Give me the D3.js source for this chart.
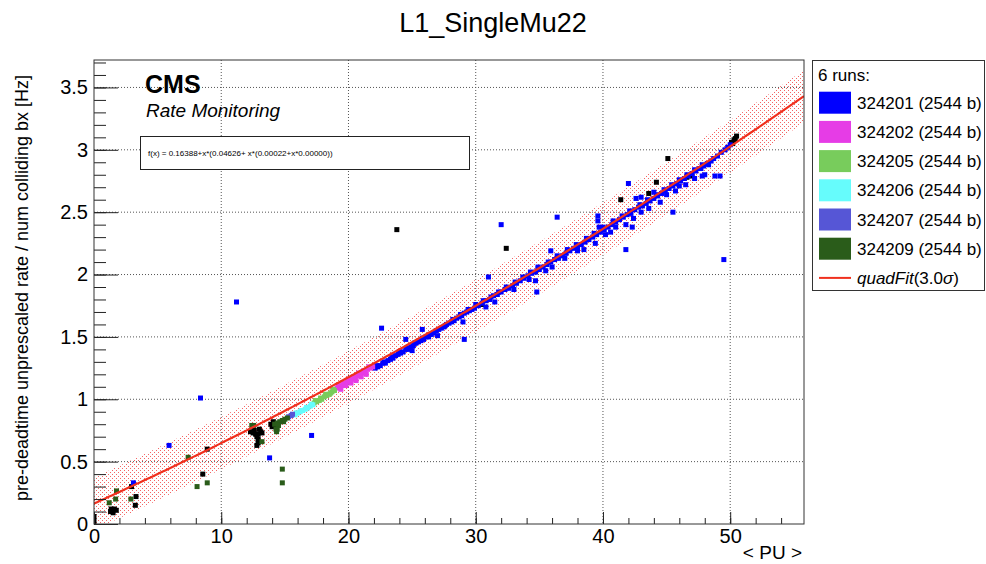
<!DOCTYPE html>
<html>
<head>
<meta charset="utf-8">
<script src="https://cdn.jsdelivr.net/npm/d3@7"></script>
<style>
body { margin: 0; background: #fff; }
text { font-family: "Liberation Sans", Arial, Helvetica, sans-serif; fill: #000; }
</style>
</head>
<body>
<div id="chart"></div>
<script>
// chart data
var runNames = ["324201", "324202", "324205", "324206", "324207", "324209"];
var runBunches = [2544, 2544, 2544, 2544, 2544, 2544];
var runColors = ["#0000ff", "#e63ce6", "#78cc5c", "#66fcfc", "#5656d6", "#2a5c1a"];

// fit: f(x) = p0 + x*(p1 + x*(p2 + x*p3)), band is +-3 sigma
var fitParams = [0.16388, 0.04626, 0.00022, 0.00000];
var fitSigma3 = 0.21;

var run324201 = [
  [22.1,1.25],[22.3,1.26],[22.5,1.27],[22.7,1.29],[22.9,1.29],[23.1,1.31],[23.3,1.32],[23.5,1.33],
  [23.7,1.35],[23.9,1.36],[24.1,1.37],[24.3,1.38],[24.5,1.40],[24.7,1.40],[24.9,1.42],[25.1,1.43],
  [25.3,1.45],[25.5,1.46],[25.7,1.47],[25.9,1.48],[26.1,1.50],[26.3,1.50],[26.5,1.52],[26.7,1.53],
  [26.9,1.55],[27.1,1.56],[27.3,1.57],[27.5,1.58],[27.7,1.60],[27.9,1.61],[28.1,1.62],[28.3,1.63],
  [28.5,1.65],[28.7,1.66],[28.9,1.67],[29.1,1.69],[29.3,1.70],[29.5,1.71],[29.7,1.72],[29.9,1.73],
  [30.2,1.75],[30.5,1.77],[30.8,1.79],[31.1,1.80],[31.4,1.83],[31.7,1.84],[32.0,1.86],[32.3,1.88],
  [32.6,1.89],[32.9,1.91],[33.2,1.93],[33.5,1.95],[33.8,1.97],[34.1,1.99],[34.4,2.01],[34.7,2.02],
  [35.0,2.04],[35.3,2.06],[35.6,2.08],[35.9,2.10],[36.2,2.12],[36.5,2.13],[36.8,2.15],[37.1,2.17],
  [37.4,2.19],[37.7,2.21],[38.0,2.22],[38.3,2.24],[38.6,2.26],[38.9,2.28],[39.2,2.30],[39.5,2.32],
  [39.8,2.34],[40.1,2.36],[40.4,2.38],[40.7,2.40],[41.0,2.42],[41.3,2.44],[41.6,2.46],[41.9,2.48],
  [42.2,2.49],[42.5,2.52],[42.8,2.54],[43.1,2.55],[43.4,2.57],[43.7,2.59],[44.0,2.61],[44.3,2.63],
  [44.6,2.65],[44.9,2.67],[45.2,2.69],[45.5,2.71],[45.8,2.73],[46.1,2.75],[46.4,2.77],[46.7,2.79],
  [47.0,2.81],[47.3,2.83],[47.6,2.85],[47.9,2.87],[48.2,2.89],[48.5,2.91],[49.6,3.00],[49.8,3.02],
  [50.0,3.04],
  [22.2,1.27],[22.8,1.30],[23.4,1.34],[24.0,1.38],[24.6,1.41],[25.2,1.45],[25.8,1.49],[26.4,1.52],
  [27.6,1.59],[28.2,1.64],[28.8,1.68],[29.4,1.72],[30.0,1.76],[30.6,1.79],[31.2,1.82],[31.8,1.86],
  [32.4,1.90],[33.1,1.94],[33.7,1.98],[34.3,2.02],[34.9,2.05],[35.7,2.10],[36.4,2.15],[37.2,2.20],
  [37.9,2.24],[38.7,2.29],[39.3,2.33],[40.0,2.38],[40.8,2.43],[41.5,2.47],[42.1,2.51],[42.9,2.56],
  [43.5,2.60],[44.2,2.64],[44.8,2.68],[45.4,2.72],[46.0,2.76],[46.6,2.80],[47.2,2.84],[47.8,2.88],
  [30.8,1.74],[33.0,1.88],[34.2,1.96],[34.9,2.06],[36.0,2.06],[37.0,2.13],[38.0,2.19],[39.6,2.43],
  [39.7,2.38],[40.2,2.32],[41.0,2.38],[42.4,2.45],[43.0,2.50],[43.6,2.53],[44.5,2.58],[45.0,2.64],
  [46.0,2.71],[46.5,2.72],[47.2,2.77],[47.8,2.79],[43.0,2.62],[44.0,2.66],[35.5,2.03],[38.5,2.20],
  [41.8,2.40],[29.0,1.62],[27.0,1.51],[25.0,1.39],[31.5,1.78],[40.6,2.34],[45.7,2.67],[39.4,2.25],
  [47.7,2.85],[48.0,2.80],[48.3,2.88],[48.7,2.93],[49.0,2.95],[49.3,2.98],
  [8.37,1.01],[5.9,0.63],[3.1,0.33],[17.1,0.71],[13.8,0.53],[11.2,1.78],[22.6,1.57],[24.5,1.48],
  [25.8,1.56],[29.1,1.48],[32.0,2.40],[36.4,2.46],[35.9,2.19],[31.0,1.98],[34.8,1.86],[34.7,1.95],
  [39.6,2.47],[42.0,2.73],[41.8,2.20],[45.5,2.50],[42.6,2.61],[42.3,2.38],[48.8,2.79],[49.2,2.79],
  [49.5,2.12]
];
var run324202 = [
  [19.1,1.09],[19.3,1.10],[19.5,1.11],[19.7,1.12],[19.9,1.14],[20.1,1.15],[20.3,1.16],[20.5,1.17],
  [20.7,1.19],[20.9,1.20],[21.1,1.21],[21.3,1.22],[21.5,1.24],[21.7,1.25],[21.9,1.26],
  [19.2,1.11],[19.6,1.13],[20.0,1.16],[20.4,1.18],[20.8,1.21],[21.2,1.23],[21.6,1.26],
  [19.4,1.08],[19.8,1.11],[20.2,1.13],[20.6,1.15],[21.0,1.18],[21.4,1.20]
];
var run324205 = [
  [17.3,0.97],[17.5,0.98],[17.7,0.99],[17.9,1.00],[18.1,1.02],[18.3,1.03],[18.5,1.04],[18.7,1.06],
  [18.9,1.07],[17.4,0.99],[17.8,1.01],[18.2,1.04],[18.6,1.05],[18.8,1.08]
];
var run324206 = [
  [15.8,0.875],[16.0,0.89],[16.2,0.90],[16.4,0.91],[16.6,0.92],[16.8,0.93],[17.0,0.945],[17.2,0.955],
  [15.9,0.89],[16.3,0.91],[16.7,0.935],[17.1,0.96]
];
var run324207 = [[15.3,0.86],[15.5,0.87],[15.6,0.88]];
var run324209 = [
  [14.2,0.80],[14.4,0.81],[14.6,0.82],[14.8,0.83],[15.0,0.84],[15.2,0.85],[14.5,0.79],[14.9,0.82],
  [12.4,0.79],[12.55,0.79],[13.2,0.66],[14.4,0.76],[14.3,0.76],[14.35,0.74],[14.8,0.44],[14.8,0.33],
  [1.77,0.265],[1.7,0.20],[1.2,0.17],[2.9,0.20],[7.4,0.535],[8.1,0.30],[8.9,0.33]
];
// points drawn in black, not listed in the legend
var otherRuns = [
  [0.0,0.06],[0.0,0.02],[1.3,0.10],[1.45,0.11],[1.6,0.12],[1.75,0.11],[1.5,0.09],[1.35,0.12],
  [2.95,0.30],[3.3,0.22],[3.25,0.15],[8.55,0.40],[8.9,0.60],
  [12.3,0.74],[12.5,0.73],[12.7,0.72],[12.9,0.72],[13.1,0.74],[12.8,0.70],[12.9,0.68],[13.0,0.76],
  [12.6,0.75],[13.2,0.73],[12.8,0.63],[12.9,0.65],[13.9,0.80],[14.1,0.82],[14.2,0.79],[14.0,0.78],
  [23.8,2.36],[32.4,2.21],[30.5,1.76],[45.1,2.93],[44.2,2.74],[43.6,2.65],[41.4,2.60],[46.6,2.78],
  [47.0,2.79],[50.4,3.09],[50.1,3.06],[50.5,3.11],[50.3,3.08],[50.2,3.05]
];
var runData = [run324201, run324202, run324205, run324206, run324207, run324209];

var xTicks = [0, 10, 20, 30, 40, 50];
var yTicks = [0, 0.5, 1, 1.5, 2, 2.5, 3, 3.5];

// set up chart
var svgWidth = 986;
var svgHeight = 564;

var margin = { top: 60, right: 182, bottom: 40, left: 94 };
var width = svgWidth - margin.left - margin.right;
var height = svgHeight - margin.top - margin.bottom;

var svg = d3.select("#chart")
  .append("svg")
  .attr("width", svgWidth)
  .attr("height", svgHeight);

// dotted red fill for the 3 sigma band
var defs = svg.append("defs");
var pat = defs.append("pattern")
  .attr("id", "bandFill")
  .attr("patternUnits", "userSpaceOnUse")
  .attr("width", 4)
  .attr("height", 4);
pat.append("rect").attr("x", 0).attr("y", 0).attr("width", 1).attr("height", 1).attr("fill", "#f03030").attr("opacity", 0.75);
pat.append("rect").attr("x", 2).attr("y", 2).attr("width", 1).attr("height", 1).attr("fill", "#f03030").attr("opacity", 0.75);

defs.append("clipPath").attr("id", "plotClip")
  .append("rect").attr("width", width).attr("height", height);

var chartGroup = svg.append("g")
  .attr("transform", `translate(${margin.left}, ${margin.top})`);

var xScale = d3.scaleLinear().domain([0, 55.8]).range([0, width]);
var yScale = d3.scaleLinear().domain([0, 3.72]).range([height, 0]);

// grid
chartGroup.append("g")
  .selectAll("line")
  .data(xTicks.filter(d => d > 0))
  .enter()
  .append("line")
  .attr("x1", d => xScale(d)).attr("x2", d => xScale(d))
  .attr("y1", 0).attr("y2", height)
  .attr("stroke", "#555").attr("stroke-dasharray", "1,2");

chartGroup.append("g")
  .selectAll("line")
  .data(yTicks.filter(d => d > 0))
  .enter()
  .append("line")
  .attr("y1", d => yScale(d)).attr("y2", d => yScale(d))
  .attr("x1", 0).attr("x2", width)
  .attr("stroke", "#555").attr("stroke-dasharray", "1,2");

// fit function
function fitFunc(x) {
  return fitParams[0] + x * (fitParams[1] + x * (fitParams[2] + x * fitParams[3]));
}
var fitX = d3.range(0, 55.81, 0.2);

var plotArea = chartGroup.append("g").attr("clip-path", "url(#plotClip)");

plotArea.append("path")
  .datum(fitX)
  .attr("fill", "url(#bandFill)")
  .attr("d", d3.area()
    .x(d => xScale(d))
    .y0(d => yScale(fitFunc(d) - fitSigma3))
    .y1(d => yScale(fitFunc(d) + fitSigma3)));

// markers
function drawPoints(data, color, size) {
  plotArea.append("g")
    .selectAll("rect")
    .data(data)
    .enter()
    .append("rect")
    .attr("x", d => xScale(d[0]) - size / 2)
    .attr("y", d => yScale(d[1]) - size / 2)
    .attr("width", size)
    .attr("height", size)
    .attr("fill", color);
}

drawPoints(otherRuns, "#000", 5);
runData.forEach(function(data, i) {
  drawPoints(data, runColors[i], 5);
});

// fit line on top
plotArea.append("path")
  .datum(fitX)
  .attr("fill", "none")
  .attr("stroke", "#f0301e")
  .attr("stroke-width", 2.2)
  .attr("d", d3.line().x(d => xScale(d)).y(d => yScale(fitFunc(d))));

// axes with ticks pointing inward
var xAxis = chartGroup.append("g")
  .attr("transform", `translate(0, ${height})`)
  .call(d3.axisBottom(xScale).tickValues(xTicks).tickSize(-12).tickPadding(5).tickFormat(d3.format("d")));
chartGroup.append("g")
  .attr("transform", `translate(0, ${height})`)
  .call(d3.axisBottom(xScale).tickValues(d3.range(0, 55.8, 2)).tickSize(-6).tickFormat(""));

var yAxis = chartGroup.append("g")
  .call(d3.axisLeft(yScale).tickValues(yTicks).tickSize(-24).tickPadding(30).tickFormat(d => d));
chartGroup.append("g")
  .call(d3.axisLeft(yScale).tickValues(d3.range(0, 3.71, 0.1)).tickSize(-12).tickFormat(""));

chartGroup.selectAll(".domain").remove();
chartGroup.selectAll(".tick line").attr("stroke", "#222");
chartGroup.selectAll(".tick text").style("font-size", "20px").style("font-family", "Liberation Sans, Arial, sans-serif");
yAxis.selectAll(".tick text").attr("x", -6);

// frame
chartGroup.append("rect")
  .attr("width", width).attr("height", height)
  .attr("fill", "none").attr("stroke", "#333").attr("stroke-width", 1);

// titles
svg.append("text")
  .attr("x", 493).attr("y", 32)
  .attr("text-anchor", "middle")
  .style("font-size", "27px")
  .text("L1_SingleMu22");

svg.append("text")
  .attr("transform", "rotate(-90)")
  .attr("x", -288).attr("y", 28)
  .attr("text-anchor", "middle")
  .style("font-size", "18px")
  .text("pre-deadtime unprescaled rate / num colliding bx [Hz]");

svg.append("text")
  .attr("x", 802).attr("y", 559)
  .attr("text-anchor", "end")
  .style("font-size", "19px")
  .text("< PU >");

// CMS label and fit formula
svg.append("text")
  .attr("x", 145).attr("y", 93)
  .style("font-size", "25px").style("font-weight", "bold")
  .text("CMS");
svg.append("text")
  .attr("x", 146).attr("y", 117)
  .style("font-size", "19px").style("font-style", "italic")
  .text("Rate Monitoring");

svg.append("rect")
  .attr("x", 140.5).attr("y", 136.5).attr("width", 329).attr("height", 33)
  .attr("fill", "#fff").attr("stroke", "#222").attr("stroke-width", 1);
svg.append("text")
  .attr("x", 148).attr("y", 156)
  .style("font-size", "8px")
  .text("f(x) = 0.16388+x*(0.04626+ x*(0.00022+x*0.00000))");

// legend
var legend = svg.append("g");
legend.append("rect")
  .attr("x", 812.5).attr("y", 60.5).attr("width", 172).attr("height", 230)
  .attr("fill", "#fff").attr("stroke", "#333");
legend.append("text")
  .attr("x", 818).attr("y", 81)
  .style("font-size", "17px")
  .text("6 runs:");

runNames.forEach(function(name, i) {
  var cy = 102.7 + i * 29.2;
  legend.append("rect")
    .attr("x", 819).attr("y", cy - 11).attr("width", 32).attr("height", 22)
    .attr("fill", runColors[i]);
  legend.append("text")
    .attr("x", 857).attr("y", cy + 6)
    .style("font-size", "17px")
    .text(`${name} (${runBunches[i]} b)`);
});

var fitY = 102.7 + 6 * 29.2;
legend.append("line")
  .attr("x1", 819).attr("x2", 851).attr("y1", fitY).attr("y2", fitY)
  .attr("stroke", "#f0301e").attr("stroke-width", 2);
var fitLabel = legend.append("text")
  .attr("x", 857).attr("y", fitY + 6)
  .style("font-size", "17px");
fitLabel.append("tspan").style("font-style", "italic").text("quadFit");
fitLabel.append("tspan").text("(3.0");
fitLabel.append("tspan").style("font-style", "italic").text("σ");
fitLabel.append("tspan").text(")");
</script>
</body>
</html>
